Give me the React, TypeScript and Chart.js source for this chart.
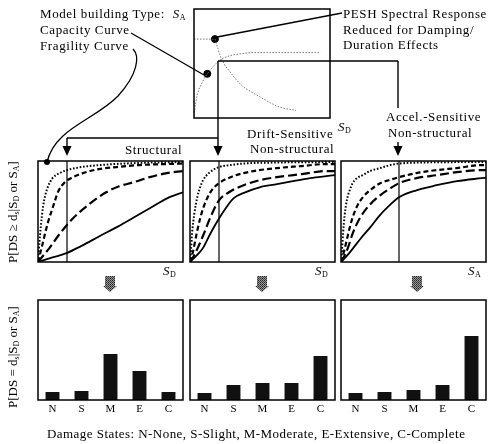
import React, { useEffect, useRef } from "react";
import { Chart, registerables } from "chart.js";
Chart.register(...registerables);

// ---------- DATA ----------
const damageStates = ["N", "S", "M", "E", "C"];
const structuralDamageProb = [0.08, 0.09, 0.46, 0.29, 0.08];
const driftDamageProb = [0.07, 0.15, 0.17, 0.17, 0.44];
const accelDamageProb = [0.07, 0.08, 0.10, 0.15, 0.64];

// top panel (spectral displacement vs spectral acceleration, arbitrary 0-100 units)
const capacityCurve = [[0, 2], [1, 12], [2, 19], [3.5, 26], [5, 30], [7, 35], [9.8, 40.5], [14, 47], [19, 53], [26, 57], [35, 59], [44, 60], [60, 60], [93, 60]];
const demandSpectrum = [[0, 72.4], [15.4, 72.4], [16.5, 68], [17.5, 64], [19, 58], [22, 50], [26, 43], [35, 30], [42, 24], [49, 19], [56, 14], [63, 10], [70, 8], [75, 7]];
const markedPoints = [[15.4, 72.4], [9.8, 40.5]];

// fragility curves: [x (0-100), P]
const structSlight = [[0, 0], [1, 0.2], [2, 0.36], [3.5, 0.55], [5, 0.66], [7, 0.75], [10, 0.83], [15, 0.88], [20, 0.91], [30, 0.94], [43, 0.96], [60, 0.975], [80, 0.985], [100, 0.99]];
const structModerate = [[0, 0], [2.5, 0.14], [5, 0.29], [7, 0.4], [9.5, 0.51], [12, 0.62], [14, 0.7], [18.5, 0.79], [24, 0.84], [31, 0.88], [42, 0.92], [54, 0.94], [70, 0.96], [89, 0.97], [100, 0.975]];
const structExtensive = [[0, 0], [4, 0.07], [8, 0.14], [15, 0.28], [24, 0.43], [36, 0.58], [47, 0.69], [56, 0.75], [66, 0.79], [77, 0.84], [89, 0.88], [100, 0.9]];
const structComplete = [[0, 0], [10, 0.045], [20, 0.09], [30, 0.16], [43, 0.26], [55, 0.35], [66, 0.44], [78, 0.54], [89, 0.63], [100, 0.69]];
const structDemand = 20;

const driftSlight = [[0, 0], [0.7, 0.12], [1.4, 0.28], [3, 0.48], [5, 0.64], [7, 0.74], [9, 0.81], [13, 0.88], [20, 0.94], [28, 0.96], [37, 0.975], [60, 0.985], [100, 0.99]];
const driftModerate = [[0, 0], [2, 0.1], [5, 0.31], [7, 0.43], [9, 0.53], [14, 0.69], [20, 0.78], [28, 0.84], [37, 0.88], [48, 0.91], [60, 0.93], [77, 0.95], [94, 0.97], [100, 0.97]];
const driftExtensive = [[0, 0], [3, 0.07], [6, 0.16], [9, 0.26], [14, 0.44], [20, 0.61], [28, 0.7], [37, 0.76], [48, 0.81], [60, 0.84], [77, 0.87], [94, 0.9], [100, 0.9]];
const driftComplete = [[0, 0], [5, 0.07], [9, 0.14], [14, 0.28], [20, 0.43], [25, 0.54], [30, 0.63], [38, 0.69], [48, 0.74], [60, 0.77], [71, 0.8], [83, 0.83], [94, 0.85], [100, 0.86]];
const driftDemand = 20;

const accelSlight = [[0, 0], [0.7, 0.12], [1.4, 0.28], [2.5, 0.46], [4, 0.61], [6, 0.71], [8, 0.78], [11, 0.83], [15, 0.86], [20, 0.9], [27, 0.93], [34, 0.96], [40, 0.975], [55, 0.985], [100, 0.99]];
const accelModerate = [[0, 0], [2, 0.1], [4, 0.22], [6, 0.34], [8, 0.44], [11, 0.55], [15, 0.64], [20, 0.71], [27, 0.78], [33, 0.81], [40, 0.84], [52, 0.88], [66, 0.91], [80, 0.93], [97, 0.96], [100, 0.96]];
const accelExtensive = [[0, 0], [3, 0.08], [5, 0.15], [8, 0.28], [11, 0.38], [15, 0.48], [20, 0.57], [27, 0.66], [33, 0.72], [40, 0.78], [52, 0.83], [66, 0.86], [80, 0.89], [97, 0.91], [100, 0.91]];
const accelComplete = [[0, 0], [4, 0.06], [8, 0.13], [14, 0.24], [20, 0.34], [26, 0.45], [32, 0.54], [40, 0.64], [52, 0.71], [66, 0.76], [80, 0.8], [97, 0.83], [100, 0.835]];
const accelDemand = 40;

// ---------- HELPERS ----------
const toPts = (arr: number[][]) => arr.map(([x, y]) => ({ x, y }));
const SERIF = '"Liberation Serif", "DejaVu Serif", serif';

const framePlugin = {
  id: "frame",
  afterDatasetsDraw(chart: any) {
    const { ctx, chartArea: a } = chart;
    ctx.save();
    ctx.strokeStyle = "#000";
    ctx.lineWidth = 1.5;
    ctx.strokeRect(a.left, a.top, a.right - a.left, a.bottom - a.top);
    ctx.restore();
  },
};

function useChart(ref: any, makeConfig: () => any) {
  useEffect(() => {
    const chart = new Chart(ref.current, makeConfig());
    return () => chart.destroy();
  }, []);
}

function TopChart({ left, top, w, h }: any) {
  const ref = useRef<HTMLCanvasElement>(null);
  useChart(ref, () => ({
    type: "line",
    data: {
      datasets: [
        { data: toPts(capacityCurve), borderColor: "#777", borderWidth: 1, borderDash: [1.5, 1.5], pointRadius: 0, cubicInterpolationMode: "monotone" },
        { data: toPts(demandSpectrum), borderColor: "#777", borderWidth: 1, borderDash: [1.5, 1.5], pointRadius: 0, cubicInterpolationMode: "monotone" },
        { data: toPts(markedPoints), showLine: false, pointRadius: 3.5, pointBackgroundColor: "#000", pointBorderColor: "#000" },
      ],
    },
    options: {
      animation: false, responsive: false, devicePixelRatio: 1,
      layout: { padding: 1 },
      plugins: { legend: { display: false }, tooltip: { enabled: false } },
      scales: { x: { type: "linear", min: 0, max: 100, display: false }, y: { min: 0, max: 100, display: false } },
    },
    plugins: [framePlugin],
  }));
  return <canvas ref={ref} width={w + 2} height={h + 2} style={{ position: "absolute", left: left - 1, top: top - 1 }} />;
}

function FragilityChart({ left, top, w, h, curves, demand }: any) {
  const ref = useRef<HTMLCanvasElement>(null);
  const styles = [
    { dash: [1.6, 1.8], width: 2 },
    { dash: [5, 3], width: 2.2 },
    { dash: [9, 4], width: 2.2 },
    { dash: [], width: 1.8 },
  ];
  useChart(ref, () => ({
    type: "line",
    data: {
      datasets: [
        ...curves.map((c: number[][], i: number) => ({
          data: toPts(c), borderColor: "#000", borderWidth: styles[i].width, borderDash: styles[i].dash,
          pointRadius: 0, cubicInterpolationMode: "monotone",
        })),
        { data: [{ x: demand, y: 0 }, { x: demand, y: 1 }], borderColor: "#000", borderWidth: 1.2, pointRadius: 0 },
      ],
    },
    options: {
      animation: false, responsive: false, devicePixelRatio: 1,
      layout: { padding: 1 },
      plugins: { legend: { display: false }, tooltip: { enabled: false } },
      scales: { x: { type: "linear", min: 0, max: 100, display: false }, y: { min: 0, max: 1, display: false } },
    },
    plugins: [framePlugin],
  }));
  return <canvas ref={ref} width={w + 2} height={h + 2} style={{ position: "absolute", left: left - 1, top: top - 1 }} />;
}

function DamageBarChart({ left, top, w, h, values }: any) {
  const ref = useRef<HTMLCanvasElement>(null);
  const axisH = 18;
  useChart(ref, () => ({
    type: "bar",
    data: {
      labels: damageStates,
      datasets: [{ data: values, backgroundColor: "#111", categoryPercentage: 1, barPercentage: 0.48 }],
    },
    options: {
      animation: false, responsive: false, devicePixelRatio: 1,
      layout: { padding: { left: 1, right: 1, top: 1, bottom: 0 } },
      plugins: { legend: { display: false }, tooltip: { enabled: false } },
      scales: {
        x: {
          grid: { display: false, drawTicks: false }, border: { display: false },
          ticks: { color: "#000", font: { family: SERIF, size: 11 }, padding: 3 },
          afterFit: (s: any) => { s.height = axisH; },
        },
        y: { min: 0, max: 1, display: false },
      },
    },
    plugins: [framePlugin],
  }));
  return <canvas ref={ref} width={w + 2} height={h + 1 + axisH} style={{ position: "absolute", left: left - 1, top: top - 1 }} />;
}

function Label({ x, y, children, style }: any) {
  return (
    <div style={{ position: "absolute", left: x, top: y - 7, fontFamily: SERIF, fontSize: 13, letterSpacing: "0.6px", lineHeight: "14px", whiteSpace: "nowrap", color: "#000", ...style }}>
      {children}
    </div>
  );
}

const sub = (t: string) => <sub style={{ fontSize: 8, verticalAlign: "-2px", letterSpacing: 0 }}>{t}</sub>;
const SA = () => <span><i>S</i>{sub("A")}</span>;
const SD = () => <span><i>S</i>{sub("D")}</span>;

function Arrow({ x, y1, y2 }: any) {
  return (
    <g>
      <line x1={x} y1={y1} x2={x} y2={y2 - 8} stroke="#000" strokeWidth={1.4} />
      <polygon points={`${x - 4.5},${y2 - 10} ${x + 4.5},${y2 - 10} ${x},${y2}`} fill="#000" />
    </g>
  );
}

function FatArrow({ x, y }: any) {
  return (
    <g>
      <rect x={x - 5} y={y} width={10} height={10} fill="url(#dither)" />
      <polygon points={`${x - 7},${y + 10} ${x + 7},${y + 10} ${x},${y + 16}`} fill="url(#dither)" />
    </g>
  );
}

export default function App() {
  const frag = [
    { left: 38, curves: [structSlight, structModerate, structExtensive, structComplete], demand: structDemand },
    { left: 190, curves: [driftSlight, driftModerate, driftExtensive, driftComplete], demand: driftDemand },
    { left: 341, curves: [accelSlight, accelModerate, accelExtensive, accelComplete], demand: accelDemand },
  ];
  const bars = [structuralDamageProb, driftDamageProb, accelDamageProb];
  const rotStyle: any = { position: "absolute", width: 140, textAlign: "center", transform: "rotate(-90deg)", fontFamily: SERIF, fontSize: 13, lineHeight: "14px", whiteSpace: "nowrap" };
  return (
    <div style={{ position: "fixed", left: 0, top: 0, width: 489, height: 444, background: "#fff", overflow: "hidden" }}>
      <TopChart left={190} top={5} w={144} h={117} />
      {frag.map((f, i) => (
        <FragilityChart key={i} left={f.left} top={161} w={145} h={101} curves={f.curves} demand={f.demand} />
      ))}
      {bars.map((b, i) => (
        <DamageBarChart key={i} left={frag[i].left} top={300} w={145} h={100} values={b} />
      ))}

      <svg width={489} height={444} style={{ position: "absolute", left: 0, top: 0, pointerEvents: "none" }}>
        <defs>
          <pattern id="dither" width="2" height="2" patternUnits="userSpaceOnUse">
            <rect width="2" height="2" fill="#999" />
            <rect width="1" height="1" fill="#222" />
            <rect x="1" y="1" width="1" height="1" fill="#444" />
          </pattern>
        </defs>
        {/* PESH pointer */}
        <line x1={212} y1={38} x2={342} y2={13} stroke="#000" strokeWidth={1.3} />
        {/* capacity curve pointer */}
        <line x1={131} y1={33} x2={204} y2={75} stroke="#000" strokeWidth={1.3} />
        {/* fragility curve pointer */}
        <path d="M 133 49 C 140 56, 138 74, 118 96 C 95 120, 55 128, 47 162" fill="none" stroke="#000" strokeWidth={1.3} />
        <circle cx={47} cy={162} r={3} fill="#000" />
        {/* distribution lines */}
        <line x1={218} y1={61} x2={398} y2={61} stroke="#000" strokeWidth={1.4} />
        <line x1={398} y1={61} x2={398} y2={108} stroke="#000" strokeWidth={1.4} />
        <Arrow x={398} y1={142} y2={156} />
        <Arrow x={218} y1={61} y2={156} />
        <line x1={67} y1={138} x2={218} y2={138} stroke="#000" strokeWidth={1.4} />
        <Arrow x={67} y1={138} y2={156} />
        <FatArrow x={110} y={276} />
        <FatArrow x={262} y={276} />
        <FatArrow x={417} y={276} />
      </svg>

      <Label x={40} y={14}>Model building Type:&nbsp; <SA /></Label>
      <Label x={40} y={30}>Capacity Curve</Label>
      <Label x={40} y={46}>Fragility Curve</Label>
      <Label x={343} y={14}>PESH Spectral Response</Label>
      <Label x={343} y={30}>Reduced for Damping/</Label>
      <Label x={343} y={45}>Duration Effects</Label>
      <Label x={338} y={127}><SD /></Label>
      <Label x={386} y={117}>Accel.-Sensitive</Label>
      <Label x={388} y={133}>Non-structural</Label>
      <Label x={247} y={134}>Drift-Sensitive</Label>
      <Label x={250} y={149}>Non-structural</Label>
      <Label x={125} y={150}>Structural</Label>
      <Label x={163} y={271}><SD /></Label>
      <Label x={315} y={271}><SD /></Label>
      <Label x={468} y={271}><SA /></Label>

      <div style={{ ...rotStyle, left: 15 - 70, top: 210 - 7 }}>
        P[DS ≥ d{sub("s")}|S{sub("D")} or S{sub("A")}]
      </div>
      <div style={{ ...rotStyle, left: 15 - 70, top: 355 - 7 }}>
        P[DS = d{sub("s")}|S{sub("D")} or S{sub("A")}]
      </div>

      <Label x={47} y={434} style={{ letterSpacing: "0.45px" }}>Damage States: N-None, S-Slight, M-Moderate, E-Extensive, C-Complete</Label>
    </div>
  );
}
